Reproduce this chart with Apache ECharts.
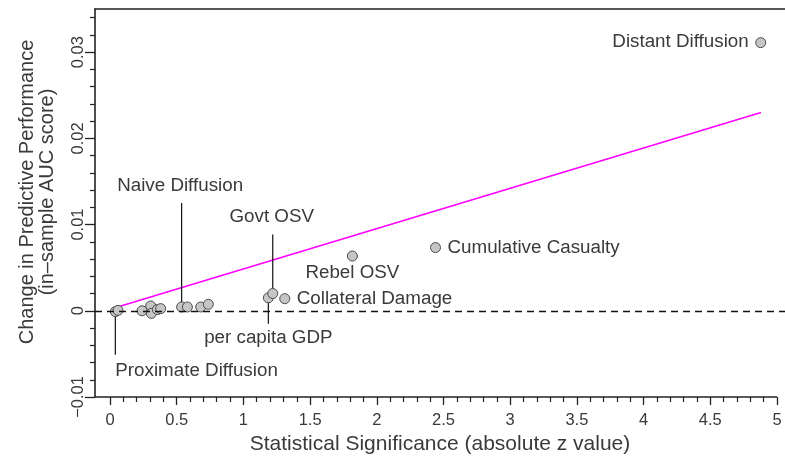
<!DOCTYPE html>
<html>
<head>
<meta charset="utf-8">
<script src="https://cdn.jsdelivr.net/npm/echarts@6/dist/echarts.min.js"></script>
<style>
  html, body { margin: 0; padding: 0; background: #fff; }
  #chart { width: 785px; height: 461px; }
</style>
</head>
<body>
<div id="chart"></div>
<script>
// ----- data -----
var zValues = [0.04, 0.06, 0.24, 0.305, 0.31, 0.355, 0.38, 0.537, 0.58, 0.68, 0.737, 1.187, 1.22, 1.31, 1.817, 2.44, 4.878];
var aucChange = [-0.0001, 0.00005, 0, 0.00056, -0.0003, 0.00014, 0.00025, 0.00044, 0.00044, 0.00044, 0.00075, 0.0015, 0.002, 0.0014, 0.00635, 0.00733, 0.0311];
var pointLabels = ['Proximate Diffusion', '', '', '', '', '', '', 'Naive Diffusion', '', '', '', 'per capita GDP', 'Govt OSV', 'Collateral Damage', 'Rebel OSV', 'Cumulative Casualty', 'Distant Diffusion'];
var fitX = [0.05, 4.88];
var fitY = [0.0004, 0.0230];
var xTicks = [0, 0.5, 1, 1.5, 2, 2.5, 3, 3.5, 4, 4.5, 5];
var xTickLabels = ['0', '0.5', '1', '1.5', '2', '2.5', '3', '3.5', '4', '4.5', '5'];
var yTicks = [-0.01, 0, 0.01, 0.02, 0.03];
var yTickLabels = ['\u22120.01', '0', '0.01', '0.02', '0.03'];

var X_MIN = -0.1124, X_MAX = 5.06;
var Y_MIN = -0.01, Y_MAX = 0.035;

// minor ticks between majors
var xMinor = [], yMinor = [];
for (var i = 1; i < 50; i++) { if (i % 5) xMinor.push(i / 10); }
for (var j = -4; j <= 17; j++) { if (j % 5) yMinor.push(j / 500); }

// label placement (pixel offsets from the point)
var labelLayout = {
    'Distant Diffusion':   { dx: -12, dy: -1, align: 'right' },
    'Cumulative Casualty': { dx: 12, dy: 0, align: 'left' },
    'Collateral Damage':   { dx: 12, dy: 0, align: 'left' },
    'Rebel OSV':           { dx: 0, dy: 17, align: 'center' },
    'Govt OSV':            { dx: -1, dy: -77, align: 'center', lead: [-59, -4] },
    'Naive Diffusion':     { dx: -1.5, dy: -121, align: 'center', lead: [-104, -4] },
    'per capita GDP':      { dx: 0, dy: 40, align: 'center', lead: [4, 26] },
    'Proximate Diffusion': { dx: 0, dy: 59, align: 'left', lead: [4, 43] }
};

var FONT = '"Liberation Sans", Arial, Helvetica, sans-serif';
var TEXT = '#3a3a3a';
var AXIS = '#222';

var points = zValues.map(function (x, k) { return [x, aucChange[k]]; });
var annotated = [];
zValues.forEach(function (x, k) {
    if (pointLabels[k]) annotated.push([x, aucChange[k], k]);
});
var fitLine = fitX.map(function (x, k) { return [x, fitY[k]]; });

function pickLabel(values, labels, v) {
    for (var k = 0; k < values.length; k++) {
        if (Math.abs(values[k] - v) < 1e-9) return labels[k];
    }
    return '';
}

var chart = echarts.init(document.getElementById('chart'), null, { renderer: 'canvas' });

chart.setOption({
    animation: false,
    textStyle: { fontFamily: FONT },
    grid: { left: 95, right: 0, top: 9, bottom: 64, containLabel: false, outerBoundsMode: 'none' },
    xAxis: [{
        type: 'value', position: 'bottom', min: X_MIN, max: X_MAX,
        name: 'Statistical Significance (absolute z value)',
        nameLocation: 'middle', nameGap: 35,
        nameTextStyle: { fontSize: 21, color: TEXT, fontFamily: FONT },
        axisLine: { show: false, onZero: false },
        axisTick: { show: true, length: 8, customValues: xTicks, lineStyle: { color: AXIS, width: 1.3 } },
        axisLabel: {
            customValues: xTicks, margin: 15, fontSize: 16.5, color: TEXT, fontFamily: FONT,
            formatter: function (v) { return pickLabel(xTicks, xTickLabels, v); }
        },
        splitLine: { show: false }
    }, {
        type: 'value', position: 'bottom', min: X_MIN, max: X_MAX,
        axisLine: { show: false, onZero: false },
        axisTick: { show: true, length: 5, customValues: xMinor, lineStyle: { color: AXIS, width: 1.2 } },
        axisLabel: { show: false },
        splitLine: { show: false }
    }, {
        type: 'value', position: 'top', min: X_MIN, max: X_MAX,
        axisLine: { show: true, onZero: false, lineStyle: { color: AXIS, width: 1.6 } },
        axisTick: { show: false }, axisLabel: { show: false }, splitLine: { show: false }
    }],
    yAxis: [{
        type: 'value', position: 'left', min: Y_MIN, max: Y_MAX,
        name: 'Change in Predictive Performance\n(in\u2013sample AUC score)',
        nameLocation: 'middle', nameRotate: 90, nameGap: 38,
        nameTextStyle: { fontSize: 20, lineHeight: 20, color: TEXT, fontFamily: FONT, padding: [0, 0, 0, 22] },
        axisLine: { show: true, onZero: false, lineStyle: { color: AXIS, width: 1.6 } },
        axisTick: { show: true, length: 10, customValues: yTicks, lineStyle: { color: AXIS, width: 1.3 } },
        axisLabel: {
            customValues: yTicks, rotate: 90, margin: 8, fontSize: 16.5, color: TEXT, fontFamily: FONT,
            formatter: function (v) { return pickLabel(yTicks, yTickLabels, v); }
        },
        splitLine: { show: false }
    }, {
        type: 'value', position: 'left', min: Y_MIN, max: Y_MAX,
        axisLine: { show: false, onZero: false },
        axisTick: { show: true, length: 5, customValues: yMinor, lineStyle: { color: AXIS, width: 1.2 } },
        axisLabel: { show: false },
        splitLine: { show: false }
    }],
    series: [{
        // regression line
        type: 'line', xAxisIndex: 0, yAxisIndex: 0,
        data: fitLine, showSymbol: false, symbol: 'none', silent: true, z: 2,
        lineStyle: { color: '#ff00ff', width: 1.6 },
        markLine: {
            silent: true, symbol: 'none', label: { show: false },
            data: [
                [{ coord: [X_MIN, 0], lineStyle: { type: [7, 5], color: '#111', width: 1.3 } },
                 { coord: [X_MAX, 0] }],
                [{ coord: [X_MIN, Y_MIN], lineStyle: { type: 'solid', color: AXIS, width: 1.6 } },
                 { coord: [xTicks[xTicks.length - 1], Y_MIN] }]
            ]
        }
    }, {
        // annotation text and leader lines
        type: 'custom', xAxisIndex: 0, yAxisIndex: 0, silent: true, z: 3,
        data: annotated,
        renderItem: function (params, api) {
            var pt = api.coord([api.value(0), api.value(1)]);
            var name = pointLabels[api.value(2)];
            var cfg = labelLayout[name];
            var children = [{
                type: 'text',
                style: {
                    text: name, x: pt[0] + cfg.dx, y: pt[1] + cfg.dy,
                    align: cfg.align, verticalAlign: 'middle',
                    font: '18.8px ' + FONT, fill: TEXT
                }
            }];
            if (cfg.lead) {
                children.push({
                    type: 'line',
                    shape: { x1: pt[0], y1: pt[1] + cfg.lead[0], x2: pt[0], y2: pt[1] + cfg.lead[1] },
                    style: { stroke: '#111', lineWidth: 1.2 }
                });
            }
            return { type: 'group', children: children };
        }
    }, {
        type: 'scatter', xAxisIndex: 0, yAxisIndex: 0, z: 4,
        data: points, symbol: 'circle', symbolSize: 10,
        itemStyle: { color: '#c6c6c6', borderColor: '#4a4a4a', borderWidth: 1, opacity: 1 }
    }]
});
</script>
</body>
</html>
